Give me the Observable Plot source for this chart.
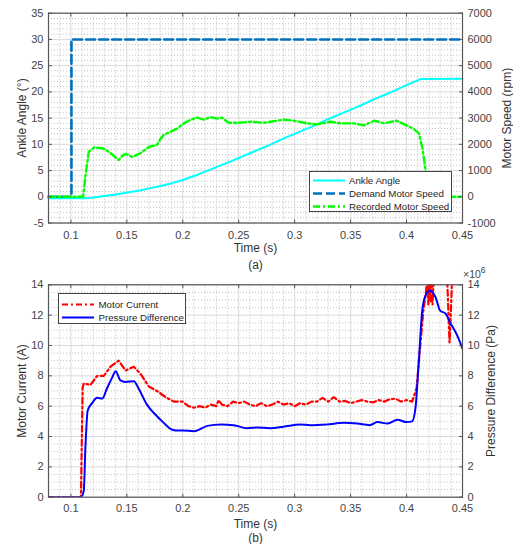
<!DOCTYPE html>
<html>
<head>
<meta charset="utf-8">
<script src="https://cdn.jsdelivr.net/npm/d3@7"></script>
<script src="https://cdn.jsdelivr.net/npm/@observablehq/plot@0.6"></script>
<style>
  body { margin: 0; background: #fff; }
  #wrap { position: relative; width: 513px; height: 544px; font-family: "Liberation Sans", Arial, sans-serif; color: #333; }
  .panel { position: absolute; left: 0; }
  .legend { position: absolute; background: #fff; border: 1px solid #444; box-sizing: border-box; font-size: 9.7px; color: #262626; }
  .legend .row { position: absolute; left: 0; height: 13px; line-height: 13px; white-space: nowrap; }
  .legend svg { position: absolute; left: 3px; top: 0; }
  .legend span { position: absolute; }
  .expo { position: absolute; font-size: 10.5px; color: #444; white-space: nowrap; }
  .expo sup { font-size: 8.5px; }
</style>
</head>
<body>
<div id="wrap"></div>
<script>
// ---- Panel (a): ankle angle and motor speed ----
const timeTicks = [0.1, 0.15, 0.2, 0.25, 0.3, 0.35, 0.4, 0.45];
const angleTicks = [-5, 0, 5, 10, 15, 20, 25, 30, 35];
const speedTicks = [-1000, 0, 1000, 2000, 3000, 4000, 5000, 6000, 7000];

const angleTime = [0.08, 0.115, 0.12, 0.13, 0.14, 0.15, 0.16, 0.17, 0.18, 0.19,
  0.20, 0.21, 0.22, 0.23, 0.24, 0.25, 0.26, 0.27, 0.28, 0.29, 0.30, 0.31, 0.32,
  0.33, 0.34, 0.35, 0.36, 0.37, 0.38, 0.39, 0.40, 0.41, 0.413, 0.45];
const angleDeg = [-0.3, -0.3, -0.15, 0.15, 0.45, 0.8, 1.15, 1.6, 2.05, 2.6,
  3.2, 3.95, 4.8, 5.65, 6.5, 7.4, 8.3, 9.2, 10.1, 11.1, 12.0, 12.9, 13.8,
  14.8, 15.7, 16.6, 17.5, 18.5, 19.4, 20.3, 21.3, 22.2, 22.45, 22.5];

const demandTime = [0.08, 0.1005, 0.1005, 0.45];
const demandRpm = [0, 0, 6000, 6000];

const recordedTime = [0.08, 0.111, 0.113, 0.116, 0.1207, 0.125, 0.129, 0.135, 0.1428, 0.146,
  0.1488, 0.1547, 0.158, 0.162, 0.1696, 0.177, 0.180, 0.183, 0.189, 0.195,
  0.201, 0.207, 0.213, 0.219, 0.2247, 0.2307, 0.235, 0.241, 0.2488, 0.2605,
  0.2724, 0.284, 0.290, 0.2992, 0.311, 0.320, 0.332, 0.341, 0.353, 0.362,
  0.371, 0.380, 0.391, 0.400, 0.406, 0.411, 0.414, 0.417, 0.418, 0.420, 0.45];
const recordedRpm = [0, 0, 800, 1720, 1880, 1860, 1840, 1680, 1400, 1560,
  1640, 1520, 1580, 1660, 1900, 1980, 2200, 2360, 2480, 2600,
  2800, 2940, 3020, 2940, 3040, 2980, 3020, 2820, 2820, 2860,
  2820, 2900, 2940, 2900, 2800, 2760, 2860, 2800, 2800, 2720,
  2900, 2800, 2900, 2720, 2600, 2420, 1900, 1020, 400, 0, 0];

// ---- Panel (b): motor current and pressure difference ----
const currentTicks = [0, 2, 4, 6, 8, 10, 12, 14];
const pressureTicks = [0, 2e6, 4e6, 6e6, 8e6, 10e6, 12e6, 14e6];

const currentTime = [0.08, 0.109, 0.1105, 0.1115, 0.1175, 0.1235, 0.1294, 0.1354, 0.1428, 0.1488,
  0.1562, 0.162, 0.1696, 0.177, 0.1846, 0.192,
  0.200, 0.205, 0.210, 0.215, 0.220, 0.225, 0.230, 0.232, 0.235, 0.240,
  0.245, 0.250, 0.255, 0.260, 0.265, 0.270, 0.275, 0.280, 0.285, 0.290,
  0.295, 0.300, 0.305, 0.310, 0.315, 0.320, 0.325, 0.330, 0.335, 0.340,
  0.345, 0.350, 0.355, 0.360, 0.365, 0.370, 0.375, 0.380, 0.385, 0.390,
  0.395, 0.400, 0.405, 0.409, 0.412, 0.415, 0.4175, 0.4185, 0.4195, 0.4205,
  0.4215, 0.4225, 0.4232, 0.4245, 0.430, 0.436, 0.4375, 0.4384, 0.4395, 0.441, 0.45];
const currentA = [0, 0, 7.2, 7.5, 7.4, 8.0, 8.0, 8.6, 9.0, 8.35,
  8.6, 8.15, 7.3, 7.0, 6.6, 6.3,
  6.3, 6.0, 5.9, 6.0, 5.9, 6.1, 6.0, 6.4, 6.1, 6.0,
  6.3, 6.2, 6.3, 6.1, 6.0, 6.2, 6.0, 6.1, 6.3, 6.1,
  6.2, 6.0, 6.2, 6.1, 6.3, 6.3, 6.55, 6.3, 6.6, 6.3,
  6.35, 6.2, 6.3, 6.4, 6.3, 6.25, 6.4, 6.3, 6.45, 6.5,
  6.3, 6.4, 6.3, 7.2, 9.8, 12.3, 13.6, 14.6, 12.7, 14.5,
  12.9, 14.5, 12.7, 14.8, 15.5, 15.0, 12.0, 10.2, 12.0, 15.0, 16.0];

const pressureTime = [0.08, 0.109, 0.1115, 0.113, 0.115, 0.119, 0.1235, 0.128, 0.1324, 0.137,
  0.140, 0.1443, 0.1488, 0.1562, 0.161, 0.168, 0.1755, 0.183, 0.189, 0.1935,
  0.200, 0.210, 0.222, 0.234, 0.2456, 0.2575, 0.2665, 0.278, 0.290, 0.305,
  0.314, 0.329, 0.344, 0.356, 0.367, 0.374, 0.383, 0.392, 0.400, 0.405,
  0.408, 0.411, 0.414, 0.417, 0.421, 0.4258, 0.430, 0.4349, 0.439, 0.445, 0.45];
const pressurePa = [0, 0, 0.4e6, 3.3e6, 5.7e6, 6.2e6, 6.55e6, 6.5e6, 7.2e6, 7.9e6,
  8.3e6, 7.7e6, 7.6e6, 7.65e6, 7.1e6, 6.1e6, 5.45e6, 4.9e6, 4.5e6, 4.4e6,
  4.4e6, 4.35e6, 4.7e6, 4.8e6, 4.75e6, 4.55e6, 4.6e6, 4.55e6, 4.65e6, 4.8e6,
  4.75e6, 4.8e6, 4.9e6, 4.85e6, 4.75e6, 4.95e6, 4.85e6, 5.1e6, 4.95e6, 5.0e6,
  5.9e6, 9.0e6, 12.3e6, 13.3e6, 13.6e6, 13.2e6, 12.3e6, 12.1e6, 11.5e6, 10.7e6, 9.8e6];

// right-axis units expressed in left-axis units
const RPM_PER_DEG = 200;
const PA_PER_A = 1e6;

const COLORS = {
  angle: "#00ffff", demand: "#0072bd", recorded: "#00ff00",
  current: "#ff0000", pressure: "#0000ff"
};
const DASH = { demand: "9,4", recorded: "7,3,2,3", current: "6,3,2,3" };

const FONT = "Liberation Sans, Arial, sans-serif";
const INK = "#444";
const AXIS = "#555";

const timeDomain = [0.08, 0.45];
const minorTime = d3.range(8, 46).map(i => i / 100).filter(v => Math.round(v * 100) % 5 !== 0);

// short inward tick: a plain stroke of the vector's length
const tickShape = {draw(context, length) { context.moveTo(0, 0); context.lineTo(0, -length); }};

function gridMarks(minorY, majorY) {
  return [
    Plot.gridX(minorTime, {stroke: "#b0b0b0", strokeOpacity: 0.8, strokeDasharray: "1,2"}),
    Plot.gridY(minorY, {stroke: "#b0b0b0", strokeOpacity: 0.8, strokeDasharray: "1,2"}),
    Plot.gridX(timeTicks, {stroke: "#dadada", strokeOpacity: 1}),
    Plot.gridY(majorY, {stroke: "#dadada", strokeOpacity: 1})
  ];
}

function innerTicks(leftTicks, rightTicks) {
  const opts = {length: 3, anchor: "start", shape: tickShape, stroke: AXIS, strokeWidth: 1};
  return [
    Plot.vector(timeTicks, {...opts, x: d => d, frameAnchor: "bottom", rotate: 0}),
    Plot.vector(timeTicks, {...opts, x: d => d, frameAnchor: "top", rotate: 180}),
    Plot.vector(leftTicks, {...opts, y: d => d, frameAnchor: "left", rotate: 90}),
    Plot.vector(rightTicks, {...opts, y: d => d, frameAnchor: "right", rotate: -90})
  ];
}

function axes(leftTicks, rightTicks, rightFormat, xPad) {
  return [
    Plot.axisX(timeTicks, {tickSize: 0, tickPadding: xPad, fontSize: 11, fill: INK, tickFormat: d => String(d), label: null}),
    Plot.axisY(leftTicks, {anchor: "left", tickSize: 0, tickPadding: 5, fontSize: 11, fill: INK, tickFormat: d => String(d), label: null}),
    Plot.axisY(rightTicks, {anchor: "right", tickSize: 0, tickPadding: 5, fontSize: 11, fill: INK, tickFormat: rightFormat, label: null})
  ];
}

function labels(left, right, rightDx, tag, timeDy, tagDy) {
  const common = {text: d => d, lineAnchor: "middle", textAnchor: "middle", fontSize: 12, fill: "#333"};
  return [
    Plot.text([left], {...common, frameAnchor: "left", rotate: -90, dx: -26}),
    Plot.text([right], {...common, frameAnchor: "right", rotate: -90, dx: rightDx}),
    Plot.text(["Time (s)"], {...common, frameAnchor: "bottom", dy: timeDy}),
    Plot.text([tag], {...common, frameAnchor: "bottom", dy: tagDy})
  ];
}

const style = {fontFamily: FONT, fontSize: "11px", color: INK, background: "transparent", overflow: "visible"};

const panelA = Plot.plot({
  width: 513, height: 272,
  marginLeft: 48, marginRight: 51, marginTop: 12.7, marginBottom: 49.5,
  style,
  x: {domain: timeDomain},
  y: {domain: [-5, 35]},
  marks: [
    ...gridMarks(d3.range(-5, 36).filter(v => v % 5 !== 0), angleTicks),
    Plot.line(d3.zip(angleTime, angleDeg), {stroke: COLORS.angle, strokeWidth: 2, curve: "monotone-x"}),
    Plot.line(d3.zip(demandTime, demandRpm.map(v => v / RPM_PER_DEG)), {stroke: COLORS.demand, strokeWidth: 2.6, strokeDasharray: DASH.demand}),
    Plot.line(d3.zip(recordedTime, recordedRpm.map(v => v / RPM_PER_DEG)), {stroke: COLORS.recorded, strokeWidth: 2.4, strokeDasharray: DASH.recorded}),
    ...innerTicks(angleTicks, speedTicks.map(v => v / RPM_PER_DEG)),
    Plot.frame({stroke: AXIS, strokeWidth: 1.2}),
    ...axes(angleTicks, speedTicks.map(v => v / RPM_PER_DEG), d => String(Math.round(d * RPM_PER_DEG)), 8),
    ...labels("Ankle Angle (°)", "Motor Speed (rpm)", 45, "(a)", 25, 42.5)
  ]
});

const panelB = Plot.plot({
  width: 513, height: 272,
  marginLeft: 48, marginRight: 51, marginTop: 12.3, marginBottom: 47.3,
  style,
  x: {domain: timeDomain},
  y: {domain: [0, 14]},
  marks: [
    ...gridMarks(d3.range(0, 14.01, 0.5).filter(v => v % 2 !== 0), currentTicks),
    Plot.line(d3.zip(currentTime, currentA), {stroke: COLORS.current, strokeWidth: 2.2, strokeDasharray: DASH.current, clip: true}),
    Plot.line(d3.zip(pressureTime, pressurePa.map(v => v / PA_PER_A)), {stroke: COLORS.pressure, strokeWidth: 2, curve: "monotone-x", clip: true}),
    ...innerTicks(currentTicks, pressureTicks.map(v => v / PA_PER_A)),
    Plot.frame({stroke: AXIS, strokeWidth: 1.2}),
    ...axes(currentTicks, pressureTicks.map(v => v / PA_PER_A), d => String(d), 7),
    ...labels("Motor Current (A)", "Pressure Difference (Pa)", 28.3, "(b)", 26.6, 41.3)
  ]
});

const wrap = document.getElementById("wrap");
panelA.classList.add("panel"); panelA.style.top = "0px";
panelB.classList.add("panel"); panelB.style.top = "272px";
wrap.append(panelA, panelB);

// legends
function legend(box, entries) {
  const el = document.createElement("div");
  el.className = "legend";
  Object.assign(el.style, {left: box.left + "px", top: box.top + "px", width: box.width + "px", height: box.height + "px"});
  entries.forEach((e, i) => {
    const row = document.createElement("div");
    row.className = "row";
    row.style.top = (box.rowTop + i * box.rowStep - 6.5) + "px";
    row.style.width = "100%";
    row.innerHTML = `<svg width="32" height="13"><line x1="0" x2="32" y1="6.5" y2="6.5" stroke="${e.color}" stroke-width="${e.width}" ${e.dash ? `stroke-dasharray="${e.dash}"` : ""}/></svg><span style="left:${box.textLeft}px">${e.label}</span>`;
    el.append(row);
  });
  wrap.append(el);
}

legend({left: 308.5, top: 170.5, width: 143, height: 41.5, rowTop: 8.8, rowStep: 12.9, textLeft: 39.5}, [
  {label: "Ankle Angle", color: COLORS.angle, width: 2},
  {label: "Demand Motor Speed", color: COLORS.demand, width: 2.6, dash: DASH.demand},
  {label: "Recorded Motor Speed", color: COLORS.recorded, width: 2.4, dash: DASH.recorded}
]);

legend({left: 58, top: 293, width: 127.5, height: 30.5, rowTop: 10.2, rowStep: 13.4, textLeft: 39.5}, [
  {label: "Motor Current", color: COLORS.current, width: 2.2, dash: DASH.current},
  {label: "Pressure Difference", color: COLORS.pressure, width: 2}
]);

// exponent marker of the pressure axis
const expo = document.createElement("div");
expo.className = "expo";
expo.style.left = "463px";
expo.style.top = "265px";
expo.innerHTML = "×10<sup>6</sup>";
wrap.append(expo);
</script>
</body>
</html>
